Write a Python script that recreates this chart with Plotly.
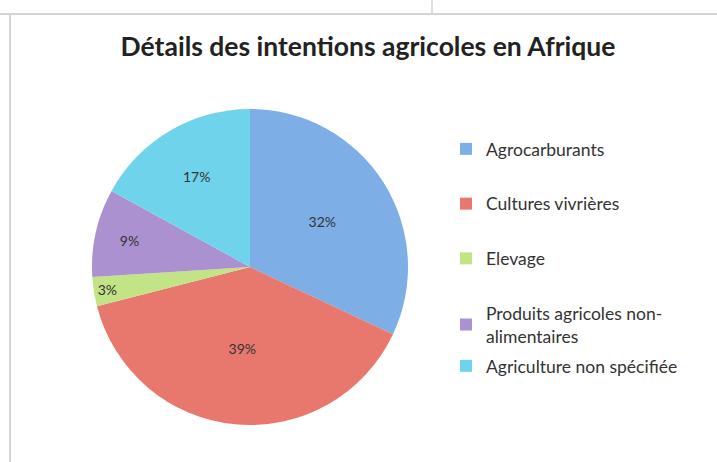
import plotly.graph_objects as go

labels = ["Agrocarburants", "Cultures vivrières", "Elevage",
          "Produits agricoles non-alimentaires", "Agriculture non spécifiée"]
legend_labels = ["Agrocarburants", "Cultures vivrières", "Elevage",
                 "Produits agricoles non-<br>alimentaires", "Agriculture non spécifiée"]
values = [32, 39, 3, 9, 17]
colors = ["#7eaee6", "#e8786e", "#c2e386", "#ab91d0", "#6fd4eb"]
title_text = "Détails des intentions agricoles en Afrique"

W, H = 717, 462
def px(x):
    return x / W
def py(y):
    return 1 - y / H

fig = go.Figure()
fig.add_trace(go.Pie(
    labels=labels, values=values, sort=False, direction="clockwise", rotation=0,
    marker=dict(colors=colors, line=dict(width=0)),
    textinfo="percent", textposition="inside", insidetextorientation="horizontal",
    textfont=dict(family="Lato", size=14, color="#333333"),
    domain=dict(x=[px(92), px(408)], y=[py(425), py(109)]),
    showlegend=False, hoverinfo="label+percent",
))

for i, (lab, col) in enumerate(zip(legend_labels, colors)):
    fig.add_trace(go.Scatter(
        x=[None], y=[None], mode="markers", name=lab,
        marker=dict(symbol="square", size=8, color=col),
        legendgroup=f"g{i}", showlegend=True,
        legend="legend2" if i == len(legend_labels) - 1 else "legend",
    ))

shape_color = "#d4d4d4"
fig.add_shape(type="line", xref="paper", yref="paper", x0=0, x1=1, y0=py(14), y1=py(14),
              line=dict(color=shape_color, width=2))
fig.add_shape(type="line", xref="paper", yref="paper", x0=px(10), x1=px(10), y0=py(14), y1=0,
              line=dict(color=shape_color, width=2))
fig.add_shape(type="line", xref="paper", yref="paper", x0=px(432), x1=px(432), y0=1, y1=py(14),
              line=dict(color=shape_color, width=1.5))

legend_font = dict(family="Lato", size=17.5, color="#333333")
fig.update_layout(
    width=W, height=H,
    margin=dict(l=0, r=0, t=0, b=0),
    paper_bgcolor="white", plot_bgcolor="white",
    title=dict(text=f"<b>{title_text}</b>", x=px(368), y=py(47), xanchor="center", yanchor="middle",
               xref="paper", yref="container",
               font=dict(family="Lato", size=26.5, color="#222222")),
    xaxis=dict(visible=False), yaxis=dict(visible=False),
    legend=dict(x=px(446), y=py(131), xanchor="left", yanchor="top",
                font=legend_font, tracegroupgap=29, itemsizing="constant",
                bgcolor="rgba(0,0,0,0)"),
    legend2=dict(x=px(446), y=py(348), xanchor="left", yanchor="top",
                 font=legend_font, itemsizing="constant", bgcolor="rgba(0,0,0,0)"),
)

fig.write_html("out.html")
